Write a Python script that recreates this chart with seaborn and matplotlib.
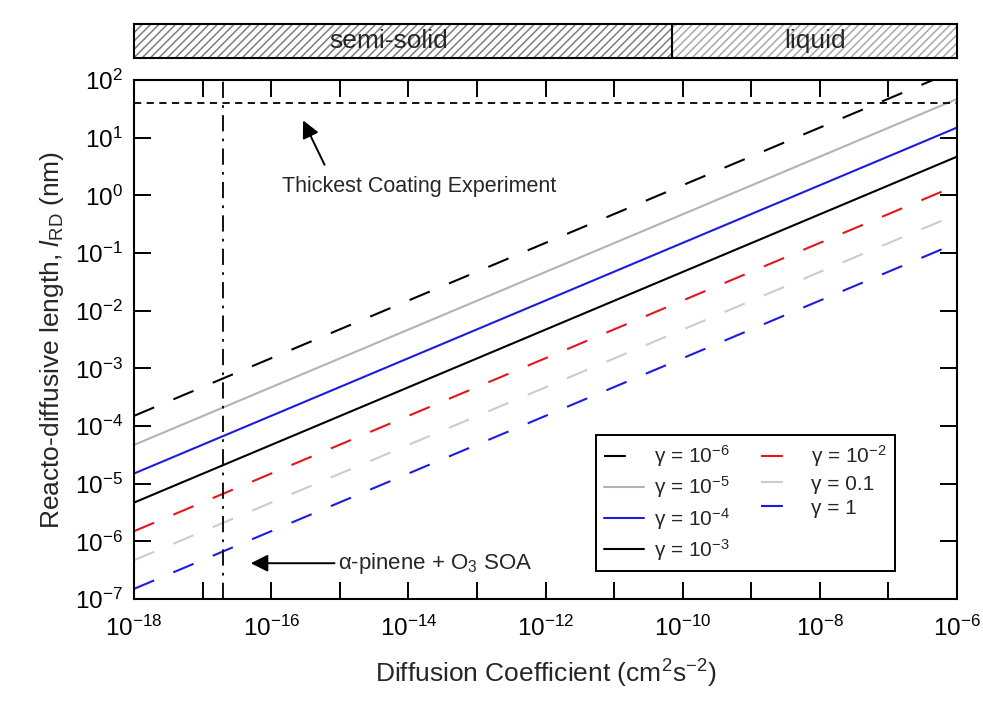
import numpy as np
import pandas as pd
import matplotlib
matplotlib.use('Agg')
import matplotlib.pyplot as plt
import seaborn as sns

# straight lines in log-log space: value at each end of the D range
diff_coef = [1e-18, 1e-6]
gamma_labels = ['γ = 10$^{-6}$', 'γ = 10$^{-5}$', 'γ = 10$^{-4}$', 'γ = 10$^{-3}$',
                'γ = 10$^{-2}$', 'γ = 0.1', 'γ = 1']
l_rd_low = [1.5e-4, 4.7e-5, 1.5e-5, 4.7e-6, 1.5e-6, 4.7e-7, 1.5e-7]
l_rd_high = [150, 47, 15, 4.7, 1.5, 0.47, 0.15]
line_colors = ['black', '#b3b3b3', '#1c1ce0', 'black', '#e3161c', '#cccccc', '#1c1ce0']
line_dashed = [True, False, False, False, True, True, True]

thickest_coating = 40      # nm
apinene_diff = 2e-17       # cm2 s-1
phase_names = ['semi-solid', 'liquid']
phase_edges = [1e-18, 7e-11, 1e-6]

x_tick_exp = list(range(-18, -5))
y_tick_exp = list(range(-7, 3))

rows = []
for i, lab in enumerate(gamma_labels):
    rows.append({'D': diff_coef[0], 'l': l_rd_low[i], 'gamma': lab})
    rows.append({'D': diff_coef[1], 'l': l_rd_high[i], 'gamma': lab})
df = pd.DataFrame(rows)

sns.set_theme(style='ticks')
plt.rcParams['font.family'] = ['Liberation Sans', 'DejaVu Sans']
plt.rcParams['mathtext.fontset'] = 'custom'
plt.rcParams['mathtext.rm'] = 'Liberation Sans'
plt.rcParams['mathtext.it'] = 'Liberation Sans:italic'
plt.rcParams['mathtext.bf'] = 'Liberation Sans:bold'
plt.rcParams['hatch.linewidth'] = 1.1

fig = plt.figure(figsize=(9.83, 7.04), dpi=100)
ax = fig.add_axes([0.1363, 0.1491, 0.8373, 0.7372])
ax_top = fig.add_axes([0.1363, 0.9176, 0.8373, 0.0483])

handles = []
for lab, col, dashed in zip(gamma_labels, line_colors, line_dashed):
    sub = df[df['gamma'] == lab]
    ls = (0, (10.5, 10)) if dashed else '-'
    sns.lineplot(data=sub, x='D', y='l', color=col, linestyle=ls, lw=1.5, ax=ax)
    handles.append(ax.lines[-1])

ax.axhline(thickest_coating, color='black', lw=1.3, ls=(0, (4, 3)))
ax.axvline(apinene_diff, color='black', lw=1.3, ls=(0, (9, 4, 1.5, 4)))

ax.set_xscale('log')
ax.set_yscale('log')
ax.set_xlim(1e-18, 1e-6)
ax.set_ylim(1e-7, 1e2)
ax.set_xticks([10.0 ** e for e in x_tick_exp])
ax.set_xticklabels(['$10^{%d}$' % e if e % 2 == 0 else '' for e in x_tick_exp])
ax.set_yticks([10.0 ** e for e in y_tick_exp])
ax.set_yticklabels(['$10^{%d}$' % e for e in y_tick_exp])
ax.minorticks_off()
ax.tick_params(direction='in', top=True, right=True, length=12, width=1.4,
               labelsize=17.5, colors='black')
ax.tick_params(axis='x', pad=12)
ax.tick_params(axis='y', pad=8)
for sp in ax.spines.values():
    sp.set_linewidth(1.5)
    sp.set_color('black')

ax.set_xlabel('Diffusion Coefficient (cm$^2$s$^{-2}$)', fontsize=19, labelpad=12)
ax.set_ylabel('Reacto-diffusive length, $\\mathit{l}_{\\mathrm{RD}}$ (nm)', fontsize=19, labelpad=6)

ax.annotate('', xy=(0.204, 0.927), xytext=(0.233, 0.832), xycoords='axes fraction',
            arrowprops=dict(arrowstyle='-|>', color='black', lw=1.4, mutation_scale=26))
ax.text(0.180, 0.794, 'Thickest Coating Experiment', transform=ax.transAxes,
        ha='left', va='center', fontsize=15.5)
ax.annotate('', xy=(0.1385, 0.069), xytext=(0.247, 0.069), xycoords='axes fraction',
            arrowprops=dict(arrowstyle='-|>', color='black', lw=1.4, mutation_scale=26))
ax.text(0.248, 0.069, 'α-pinene + O$_3$ SOA', transform=ax.transAxes,
        ha='left', va='center', fontsize=16)

leg = ax.legend(handles, gamma_labels, ncol=2, loc='lower left',
                bbox_to_anchor=(0.561, 0.054, 0.364, 0.283), mode='expand',
                borderaxespad=0, fontsize=15, handlelength=1.9, handletextpad=0.5,
                labelspacing=0.25, fancybox=False, framealpha=1, edgecolor='black')
leg.get_frame().set_linewidth(1.4)

# phase bar on top
ax_top.set_xscale('log')
ax_top.set_xlim(1e-18, 1e-6)
ax_top.set_ylim(0, 1)
hatch_cols = ['#7f7f7f', '#a8a8a8']
text_pos = [0.309, 0.828]
for i, name in enumerate(phase_names):
    ax_top.axvspan(phase_edges[i], phase_edges[i + 1], facecolor='white',
                   edgecolor=hatch_cols[i], hatch='////', lw=0)
    ax_top.text(text_pos[i], 0.5, name, transform=ax_top.transAxes,
                ha='center', va='center', fontsize=19)
ax_top.axvline(phase_edges[1], color='black', lw=1.5)
ax_top.set_xticks([])
ax_top.set_yticks([])
ax_top.minorticks_off()
for sp in ax_top.spines.values():
    sp.set_linewidth(1.5)
    sp.set_color('black')

fig.savefig('out.png', dpi=100)
